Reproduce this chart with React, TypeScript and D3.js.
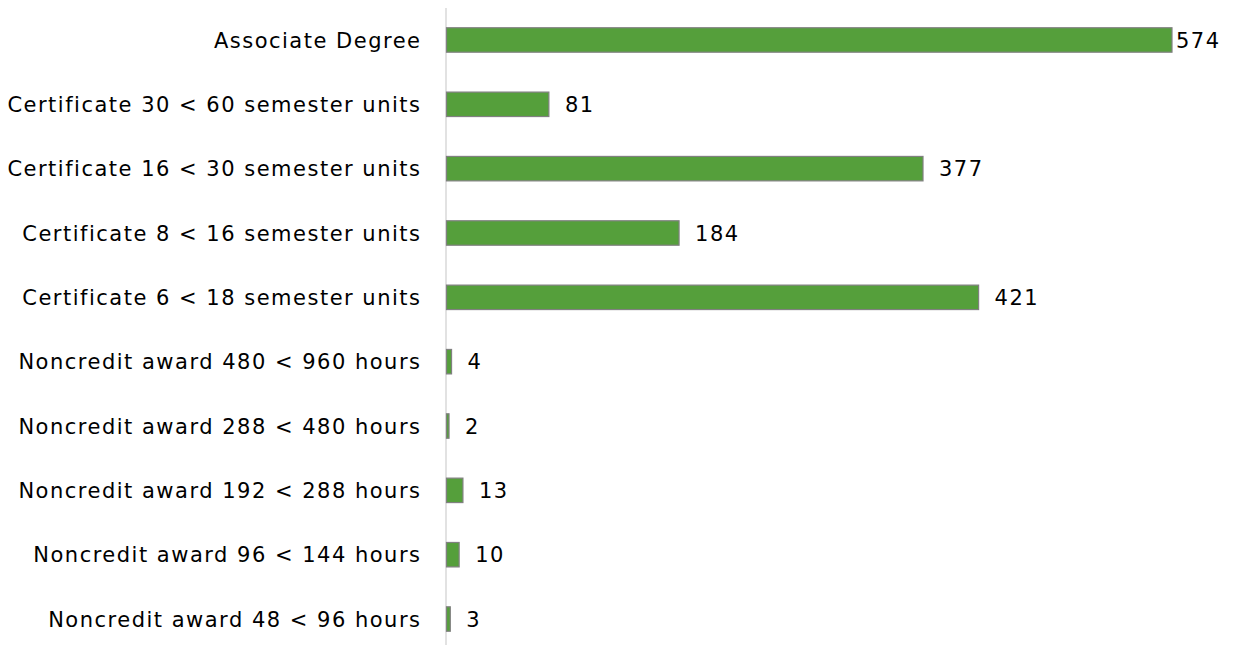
import React from "react";
import * as d3 from "d3";

const categories = [
  "Associate Degree",
  "Certificate 30 < 60 semester units",
  "Certificate 16 < 30 semester units",
  "Certificate 8 < 16 semester units",
  "Certificate 6 < 18 semester units",
  "Noncredit award 480 < 960 hours",
  "Noncredit award 288 < 480 hours",
  "Noncredit award 192 < 288 hours",
  "Noncredit award 96 < 144 hours",
  "Noncredit award 48 < 96 hours",
];
const values = [574, 81, 377, 184, 421, 4, 2, 13, 10, 3];

const W = 1234;
const H = 645;
const axisX = 446.5;
const FONT = "'DejaVu Sans', sans-serif";
const FS = 21;
const LS = 1.5;

export default function App() {
  const x = d3.scaleLinear().domain([0, 574]).range([axisX, 1172]);
  const y = d3
    .scaleBand<string>()
    .domain(categories)
    .range([7.8, 651.2])
    .paddingInner(0.62)
    .paddingOuter(0.31);
  return (
    <svg
      width={W}
      height={H}
      style={{ position: "absolute", left: 0, top: 0, background: "#fff" }}
    >
      <line x1={axisX - 0.5} x2={axisX - 0.5} y1={8} y2={H} stroke="#d9d9d9" strokeWidth={1.5} />
      {categories.map((c, i) => {
        const v = values[i];
        const yc = (y(c) as number) + y.bandwidth() / 2;
        const x1 = x(v);
        const lx = Math.min(x1 + 16, 1176);
        return (
          <g key={c}>
            <rect
              x={axisX}
              y={y(c)}
              width={Math.max(x1 - axisX, 0.5)}
              height={y.bandwidth()}
              fill="#559f3b"
              stroke="#808080"
              strokeWidth={1.2}
            />
            <text
              x={420 + LS}
              y={yc + 7.8}
              textAnchor="end"
              fontFamily={FONT}
              fontSize={FS}
              letterSpacing={LS}
              fill="#000"
            >
              {c}
            </text>
            <text
              x={lx}
              y={yc + 7.8}
              fontFamily={FONT}
              fontSize={FS}
              letterSpacing={LS}
              fill="#000"
            >
              {v}
            </text>
          </g>
        );
      })}
    </svg>
  );
}
